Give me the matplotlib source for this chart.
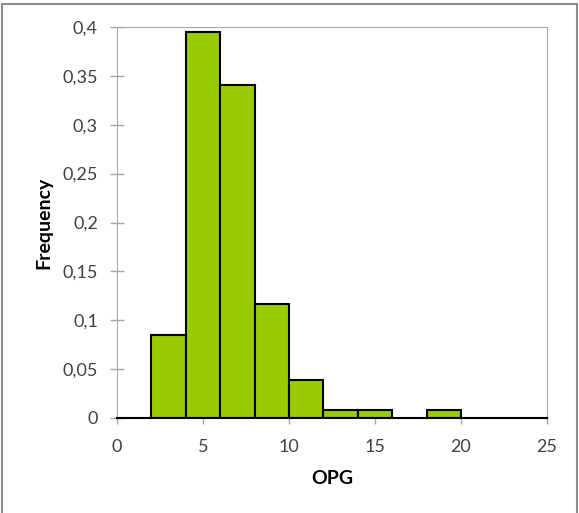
import matplotlib.pyplot as plt
import numpy as np
from matplotlib.patches import Rectangle

# histogram bins (OPG) and relative frequencies
bin_edges = [2, 4, 6, 8, 10, 12, 14, 16, 18, 20]
frequency = [0.0853, 0.3953, 0.3411, 0.1163, 0.0388, 0.0078, 0.0078, 0.0, 0.0078]
y_ticks = [0, 0.05, 0.1, 0.15, 0.2, 0.25, 0.3, 0.35, 0.4]
y_tick_labels = ['0', '0,05', '0,1', '0,15', '0,2', '0,25', '0,3', '0,35', '0,4']
x_ticks = [0, 5, 10, 15, 20, 25]

plt.rcParams['font.family'] = ['Lato', 'DejaVu Sans']

fig = plt.figure(figsize=(5.79, 5.13), dpi=100)
ax = fig.add_axes([117/579, 1-418/513, 430/579, 391/513])

lefts = np.array(bin_edges[:-1])
widths = np.diff(bin_edges)
heights = np.array(frequency)
nz = heights > 0
ax.bar(lefts[nz], heights[nz], width=widths[nz], align='edge',
       color='#99CC00', edgecolor='black', linewidth=1.5, zorder=2)

ax.set_xlim(0, 25)
ax.set_ylim(0, 0.4)
ax.set_xticks(x_ticks)
ax.set_xticklabels([str(t) for t in x_ticks])
ax.set_yticks(y_ticks)
ax.set_yticklabels(y_tick_labels)

grey = '#A6A6A6'
ax.spines['left'].set_color(grey)
ax.spines['top'].set_color(grey)
ax.spines['right'].set_color(grey)
ax.spines['bottom'].set_color('black')
ax.spines['bottom'].set_linewidth(1.5)
ax.spines['bottom'].set_zorder(3)
ax.tick_params(axis='y', direction='inout', length=9.5, color=grey, width=1,
               labelsize=13, labelcolor='#404040', pad=9)
ax.tick_params(axis='x', direction='out', length=4, color=grey, width=1,
               labelsize=13, labelcolor='#404040', pad=11)

ax.set_xlabel('OPG', fontsize=14, fontweight='bold', labelpad=11)
ax.set_ylabel('Frequency', fontsize=14, fontweight='bold', labelpad=7)

# chart area border
fig.patches.append(Rectangle((2/579, -0.02), 575/579, 1.02 - 4/513,
                             transform=fig.transFigure, fill=False,
                             edgecolor='#8C8C8C', linewidth=1.5))

fig.savefig('out.png', dpi=100)
